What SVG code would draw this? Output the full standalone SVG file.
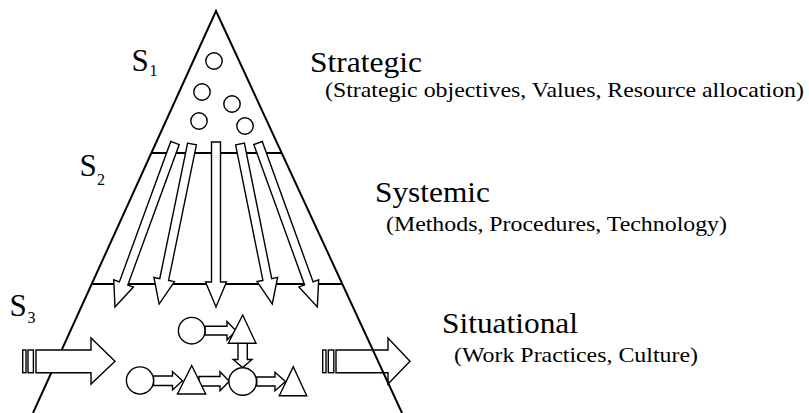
<svg xmlns="http://www.w3.org/2000/svg" width="809" height="413" viewBox="0 0 809 413">
<style>
.ln{fill:none;stroke:#000;stroke-width:2}
.sh{fill:#fff;stroke:#000;stroke-width:1.4;stroke-linejoin:miter}
.t{fill:#000;font-family:"Liberation Serif","Times New Roman",serif}
.big{font-size:29px}
.sub{font-size:21.5px}
.s{font-size:31px}
.ss{font-size:16px}
</style>
<g id="out-arrow">
<rect class="sh" x="322.7" y="350" width="3.3" height="22.7"/>
<rect class="sh" x="328.3" y="350" width="5.5" height="22.7"/>
<path class="sh" d="M336,350H388V338L410,361.3L388,384V372.7H336Z"/>
</g>
<g id="pyramid">
<path class="ln" d="M33,413L216,11L402,413"/>
<line class="ln" x1="151.4" y1="153" x2="281.7" y2="153"/>
<line class="ln" x1="91.7" y1="284" x2="342.3" y2="284"/>
</g>
<g id="strategic-circles">
<circle class="sh" cx="214" cy="61" r="8.2"/>
<circle class="sh" cx="202" cy="92" r="8.2"/>
<circle class="sh" cx="232" cy="104" r="8.2"/>
<circle class="sh" cx="199" cy="121" r="8.2"/>
<circle class="sh" cx="245" cy="126" r="8.2"/>
</g>
<g id="connectors">
<path class="sh" transform="translate(175,143) rotate(20.1)" d="M-4.5,0H4.5V149.6H10.5L0,174.6L-10.5,149.6H-4.5Z"/>
<path class="sh" transform="translate(192,144) rotate(11.6)" d="M-4.5,0H4.5V138.4H10.5L0,163.4L-10.5,138.4H-4.5Z"/>
<path class="sh" d="M211.5,142H220.5V282H226.5L216,307L205.5,282H211.5Z"/>
<path class="sh" transform="translate(240,144) rotate(-11.4)" d="M-4.5,0H4.5V138.2H10.5L0,163.2L-10.5,138.2H-4.5Z"/>
<path class="sh" transform="translate(258,143) rotate(-19.9)" d="M-4.5,0H4.5V149.3H10.5L0,174.3L-10.5,149.3H-4.5Z"/>
<path class="sh" d="M205,326.3H227V321.5L236,330.7L227,340V335H205Z"/>
<path class="sh" d="M238,343.3H247.3V359.5H252L242.6,367.6L233.2,359.5H238Z"/>
<path class="sh" d="M153.5,376H172.5V371.5L182.5,380.7L172.5,390V385.5H153.5Z"/>
<path class="sh" d="M199,376.5H220V371.7L229.3,381.2L220,390.7V386H199Z"/>
<path class="sh" d="M256.7,377H275V372.2L285.5,381.5L275,390.8V386H256.7Z"/>
</g>
<g id="flow-nodes">
<circle class="sh" cx="191.7" cy="330.7" r="13.3"/>
<path class="sh" d="M242.7,315L256,343.3H228.3Z"/>
<circle class="sh" cx="242.7" cy="381.5" r="13.8"/>
<circle class="sh" cx="140" cy="380.5" r="13.6"/>
<path class="sh" d="M191.7,365.5L205.7,394H177.5Z"/>
<path class="sh" d="M293.3,366.7L306.7,395.7H279.3Z"/>
</g>
<g id="in-arrow">
<rect class="sh" x="22.7" y="350" width="3.3" height="22.7"/>
<rect class="sh" x="28" y="350" width="5.4" height="22.7"/>
<path class="sh" d="M36,350H91V338L115,361.3L91,384V372.7H36Z"/>
</g>
<g id="labels">
<text class="t s" x="131.5" y="71">S</text><text class="t ss" x="149.5" y="76">1</text>
<text class="t s" x="79.5" y="176">S</text><text class="t ss" x="97" y="185">2</text>
<text class="t s" x="9.5" y="316">S</text><text class="t ss" x="27.5" y="323">3</text>
</g>
<g id="strategic">
<text class="t big" x="310" y="72" textLength="112" lengthAdjust="spacingAndGlyphs">Strategic</text>
<text class="t sub" x="325" y="97" textLength="479" lengthAdjust="spacingAndGlyphs">(Strategic objectives, Values, Resource allocation)</text>
</g>
<g id="systemic">
<text class="t big" x="375" y="202" textLength="115" lengthAdjust="spacingAndGlyphs">Systemic</text>
<text class="t sub" x="386" y="231" textLength="341" lengthAdjust="spacingAndGlyphs">(Methods, Procedures, Technology)</text>
</g>
<g id="situational">
<text class="t big" x="442" y="333" textLength="136" lengthAdjust="spacingAndGlyphs">Situational</text>
<text class="t sub" x="454" y="362" textLength="244" lengthAdjust="spacingAndGlyphs">(Work Practices, Culture)</text>
</g>
</svg>
